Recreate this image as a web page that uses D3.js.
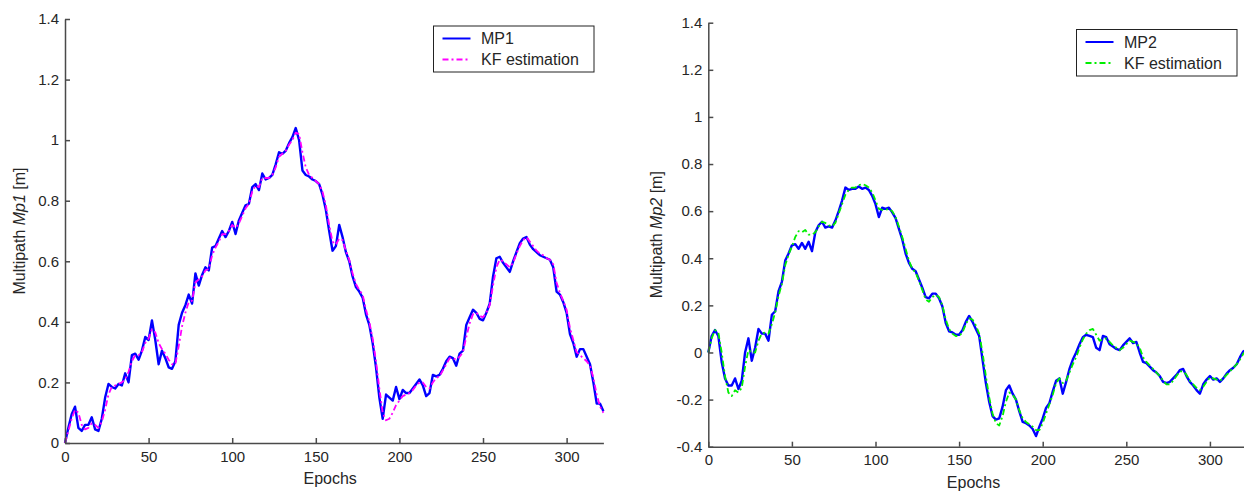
<!DOCTYPE html>
<html>
<head>
<meta charset="utf-8">
<script src="https://cdn.jsdelivr.net/npm/d3@7"></script>
<style>
  body { margin: 0; background: #fff; }
  svg { display: block; }
  text { font-family: "Liberation Sans", Arial, sans-serif; fill: #262626; }
</style>
</head>
<body>
<div id="chart"></div>
<script>
document.addEventListener("DOMContentLoaded", function() {
  var width = 1244,
      height = 491;

  // epochs are sampled every 2
  var epochs = d3.range(0, 323, 2);

  var mp1 = [
    0.0, 0.05, 0.095, 0.12, 0.05, 0.04, 0.06, 0.06, 0.085, 0.045,
    0.04, 0.08, 0.15, 0.195, 0.185, 0.18, 0.195, 0.19, 0.23, 0.20,
    0.29, 0.295, 0.275, 0.305, 0.35, 0.34, 0.405, 0.34, 0.26, 0.305,
    0.28, 0.25, 0.245, 0.27, 0.39, 0.43, 0.455, 0.49, 0.46, 0.56,
    0.52, 0.555, 0.58, 0.57, 0.645, 0.65, 0.675, 0.70, 0.68, 0.70,
    0.73, 0.69, 0.735, 0.76, 0.785, 0.79, 0.845, 0.855, 0.835, 0.89,
    0.87, 0.875, 0.885, 0.92, 0.96, 0.955, 0.965, 0.99, 1.01, 1.04,
    1.0, 0.90, 0.885, 0.88, 0.87, 0.865, 0.855, 0.82, 0.77, 0.70,
    0.635, 0.65, 0.72, 0.68, 0.63, 0.60, 0.55, 0.515, 0.50, 0.48,
    0.425, 0.39, 0.33, 0.25, 0.15, 0.08, 0.16, 0.15, 0.14, 0.185,
    0.145, 0.175, 0.165, 0.165, 0.18, 0.195, 0.21, 0.19, 0.155, 0.165,
    0.225, 0.22, 0.225, 0.245, 0.27, 0.285, 0.28, 0.255, 0.295, 0.305,
    0.39, 0.415, 0.44, 0.43, 0.41, 0.405, 0.43, 0.46, 0.55, 0.61,
    0.615, 0.595, 0.58, 0.565, 0.60, 0.63, 0.66, 0.675, 0.68, 0.655,
    0.64, 0.63, 0.62, 0.615, 0.61, 0.605, 0.58, 0.50, 0.49, 0.465,
    0.43, 0.36, 0.33, 0.285, 0.31, 0.31, 0.285, 0.26, 0.20, 0.13,
    0.13, 0.105
  ];

  var kf1 = [
    0.0, 0.04, 0.08, 0.11, 0.10, 0.06, 0.045, 0.05, 0.065, 0.06,
    0.05, 0.07, 0.11, 0.16, 0.185, 0.19, 0.195, 0.20, 0.21, 0.235,
    0.27, 0.29, 0.29, 0.30, 0.33, 0.345, 0.375, 0.365, 0.33, 0.31,
    0.295, 0.275, 0.26, 0.26, 0.32, 0.385, 0.43, 0.465, 0.47, 0.53,
    0.54, 0.55, 0.57, 0.575, 0.62, 0.645, 0.665, 0.69, 0.69, 0.70,
    0.72, 0.71, 0.725, 0.75, 0.775, 0.79, 0.83, 0.85, 0.845, 0.875,
    0.875, 0.875, 0.885, 0.91, 0.945, 0.955, 0.965, 0.985, 1.0, 1.025,
    1.02, 0.96, 0.91, 0.885, 0.875, 0.865, 0.855, 0.83, 0.785, 0.72,
    0.665, 0.655, 0.675, 0.67, 0.635, 0.605, 0.56, 0.525, 0.505, 0.49,
    0.44, 0.40, 0.345, 0.27, 0.18, 0.10, 0.075, 0.08, 0.10, 0.125,
    0.14, 0.155, 0.16, 0.165, 0.175, 0.19, 0.20, 0.20, 0.185, 0.18,
    0.20, 0.215, 0.22, 0.24, 0.26, 0.28, 0.28, 0.275, 0.285, 0.30,
    0.35, 0.395, 0.425, 0.43, 0.42, 0.415, 0.43, 0.455, 0.52, 0.58,
    0.605, 0.60, 0.59, 0.58, 0.595, 0.625, 0.65, 0.67, 0.68, 0.665,
    0.65, 0.635, 0.625, 0.62, 0.61, 0.605, 0.59, 0.53, 0.495, 0.47,
    0.44, 0.38, 0.34, 0.30, 0.29, 0.28, 0.27, 0.255, 0.215, 0.16,
    0.12, 0.10
  ];

  var mp2 = [
    0.0, 0.07, 0.095, 0.07, -0.04, -0.11, -0.14, -0.14, -0.11, -0.155,
    -0.12, 0.0, 0.06, -0.035, 0.02, 0.10, 0.08, 0.08, 0.05, 0.16,
    0.175, 0.26, 0.30, 0.39, 0.42, 0.455, 0.46, 0.44, 0.465, 0.44,
    0.47, 0.43, 0.51, 0.54, 0.555, 0.53, 0.535, 0.53, 0.56, 0.60,
    0.645, 0.70, 0.69, 0.695, 0.695, 0.705, 0.695, 0.70, 0.69, 0.665,
    0.63, 0.575, 0.615, 0.61, 0.615, 0.595, 0.57, 0.525, 0.48, 0.42,
    0.38, 0.355, 0.345, 0.31, 0.275, 0.235, 0.23, 0.25, 0.25, 0.23,
    0.195, 0.125, 0.09, 0.085, 0.075, 0.075, 0.095, 0.13, 0.155, 0.13,
    0.10, 0.07, -0.03, -0.13, -0.21, -0.27, -0.285, -0.28, -0.23, -0.16,
    -0.14, -0.175, -0.20, -0.25, -0.295, -0.30, -0.31, -0.325, -0.355, -0.315,
    -0.28, -0.235, -0.215, -0.165, -0.12, -0.11, -0.175, -0.125, -0.07, -0.03,
    0.0, 0.035, 0.065, 0.075, 0.07, 0.065, 0.02, 0.01, 0.07, 0.065,
    0.035, 0.025, 0.015, 0.01, 0.03, 0.045, 0.06, 0.04, 0.045, 0.0,
    -0.04, -0.045, -0.06, -0.075, -0.085, -0.10, -0.125, -0.13, -0.125, -0.11,
    -0.095, -0.075, -0.07, -0.10, -0.125, -0.14, -0.16, -0.175, -0.135, -0.115,
    -0.10, -0.115, -0.11, -0.125, -0.11, -0.09, -0.075, -0.065, -0.05, -0.02,
    0.005, 0.01
  ];

  var kf2 = [
    0.0, 0.06, 0.095, 0.085, 0.0, -0.10, -0.17, -0.185, -0.16, -0.17,
    -0.15, -0.06, 0.01, 0.0, 0.0, 0.05, 0.08, 0.085, 0.08, 0.12,
    0.17, 0.24, 0.29, 0.37, 0.415, 0.45, 0.49, 0.515, 0.51, 0.52,
    0.50, 0.50, 0.51, 0.535, 0.555, 0.55, 0.54, 0.535, 0.55, 0.59,
    0.63, 0.67, 0.69, 0.70, 0.70, 0.71, 0.715, 0.71, 0.70, 0.68,
    0.645, 0.61, 0.605, 0.605, 0.61, 0.60, 0.575, 0.535, 0.49, 0.44,
    0.39, 0.355, 0.34, 0.305, 0.265, 0.225, 0.215, 0.235, 0.245, 0.235,
    0.20, 0.14, 0.10, 0.08, 0.07, 0.07, 0.085, 0.12, 0.145, 0.14,
    0.115, 0.08, 0.0, -0.10, -0.19, -0.26, -0.30, -0.31, -0.27, -0.21,
    -0.17, -0.18, -0.20, -0.245, -0.28, -0.295, -0.305, -0.315, -0.33, -0.33,
    -0.30, -0.26, -0.22, -0.18, -0.13, -0.11, -0.13, -0.12, -0.085, -0.05,
    -0.02, 0.02, 0.055, 0.08, 0.095, 0.10, 0.075, 0.05, 0.055, 0.06,
    0.045, 0.03, 0.02, 0.01, 0.02, 0.035, 0.05, 0.045, 0.04, 0.02,
    -0.02, -0.04, -0.055, -0.07, -0.085, -0.10, -0.12, -0.135, -0.135, -0.12,
    -0.10, -0.08, -0.08, -0.095, -0.12, -0.135, -0.15, -0.16, -0.145, -0.125,
    -0.105, -0.11, -0.115, -0.12, -0.11, -0.095, -0.08, -0.065, -0.05, -0.03,
    -0.005, 0.01
  ];

  var x_ticks = [0, 50, 100, 150, 200, 250, 300];
  var y_ticks_1 = [0, 0.2, 0.4, 0.6, 0.8, 1, 1.2, 1.4];
  var y_ticks_2 = [-0.4, -0.2, 0, 0.2, 0.4, 0.6, 0.8, 1, 1.2, 1.4];

  var chart = d3.select('#chart').append('svg')
    .attr('width', width)
    .attr('height', height);

  var panels = [
    {
      left: 65, right: 603.4, top: 19, bottom: 443,
      y_domain: [0, 1.4], y_ticks: y_ticks_1,
      label_num: '1', label_x: 25,
      series: [
        { name: 'MP1', values: mp1, color: '#0000ff', dash: null },
        { name: 'KF estimation', values: kf1, color: '#ff00ff', dash: '6,3,2,3' }
      ],
      legend: { x: 433.5, y: 26, w: 160.5, h: 46 }
    }, {
      left: 708.3, right: 1246.7, top: 22.7, bottom: 446.7,
      y_domain: [-0.4, 1.4], y_ticks: y_ticks_2,
      label_num: '2', label_x: 662,
      series: [
        { name: 'MP2', values: mp2, color: '#0000ff', dash: null },
        { name: 'KF estimation', values: kf2, color: '#00ee00', dash: '6,3,2,3' }
      ],
      legend: { x: 1076.5, y: 29.5, w: 160.5, h: 46.5 }
    }
  ];

  function fmt(d) { return String(+d.toFixed(1)); }

  panels.forEach(function(p) {
    var x_scale = d3.scaleLinear()
      .domain([0, 322])
      .range([p.left, p.right]);

    var y_scale = d3.scaleLinear()
      .domain(p.y_domain)
      .range([p.bottom, p.top]);

    var g = chart.append('g');

    // series: measured first, KF on top
    p.series.forEach(function(s, k) {
      var line = d3.line()
        .x(function(d, i) { return x_scale(epochs[i]); })
        .y(function(d) { return y_scale(d); });

      g.append('path')
        .datum(s.values)
        .attr('d', line)
        .attr('fill', 'none')
        .attr('stroke', s.color)
        .attr('stroke-width', k == 0 ? 2.4 : 1.8)
        .attr('stroke-linejoin', 'round')
        .attr('stroke-dasharray', s.dash);
    });

    var x_axis = g.append('g')
      .attr('transform', 'translate(0,' + p.bottom + ')')
      .call(d3.axisBottom(x_scale).tickValues(x_ticks).tickFormat(fmt)
        .tickSizeInner(-5).tickSizeOuter(0).tickPadding(8));

    var y_axis = g.append('g')
      .attr('transform', 'translate(' + p.left + ',0)')
      .call(d3.axisLeft(y_scale).tickValues(p.y_ticks).tickFormat(fmt)
        .tickSizeInner(-5).tickSizeOuter(0).tickPadding(6));

    [x_axis, y_axis].forEach(function(a) {
      a.selectAll('path, line').attr('stroke', '#4a4a4a').attr('stroke-width', 1.5);
      a.selectAll('text')
        .attr('font-family', '"Liberation Sans", Arial, sans-serif')
        .attr('font-size', 15)
        .attr('fill', '#262626');
    });

    g.append('text')
      .attr('x', (p.left + p.right) / 2 - 4)
      .attr('y', p.bottom + 41)
      .attr('text-anchor', 'middle')
      .attr('font-size', 16)
      .text('Epochs');

    var ylab = g.append('text')
      .attr('transform', 'translate(' + p.label_x + ',' + ((p.top + p.bottom) / 2) + ') rotate(-90)')
      .attr('text-anchor', 'middle')
      .attr('font-size', 16);
    ylab.append('tspan').text('Multipath ');
    ylab.append('tspan').attr('font-style', 'italic').text('Mp' + p.label_num);
    ylab.append('tspan').text(' [m]');

    // legend
    var L = p.legend;
    var legend = g.append('g');
    legend.append('rect')
      .attr('x', L.x).attr('y', L.y)
      .attr('width', L.w).attr('height', L.h)
      .attr('fill', '#fff')
      .attr('stroke', '#222')
      .attr('stroke-width', 1);

    var rows = legend.selectAll('g.row')
      .data(p.series)
      .enter().append('g')
      .attr('class', 'row')
      .attr('transform', function(d, i) { return 'translate(' + L.x + ',' + (L.y + 12.5 + i * 21) + ')'; });

    rows.append('line')
      .attr('x1', 9).attr('x2', 37)
      .attr('y1', 0).attr('y2', 0)
      .attr('stroke', function(d) { return d.color; })
      .attr('stroke-width', function(d, i) { return i == 0 ? 2 : 2; })
      .attr('stroke-dasharray', function(d) { return d.dash; });

    rows.append('text')
      .attr('x', 47.5)
      .attr('y', 5.5)
      .attr('font-size', 16)
      .text(function(d) { return d.name; });
  });
});
</script>
</body>
</html>
